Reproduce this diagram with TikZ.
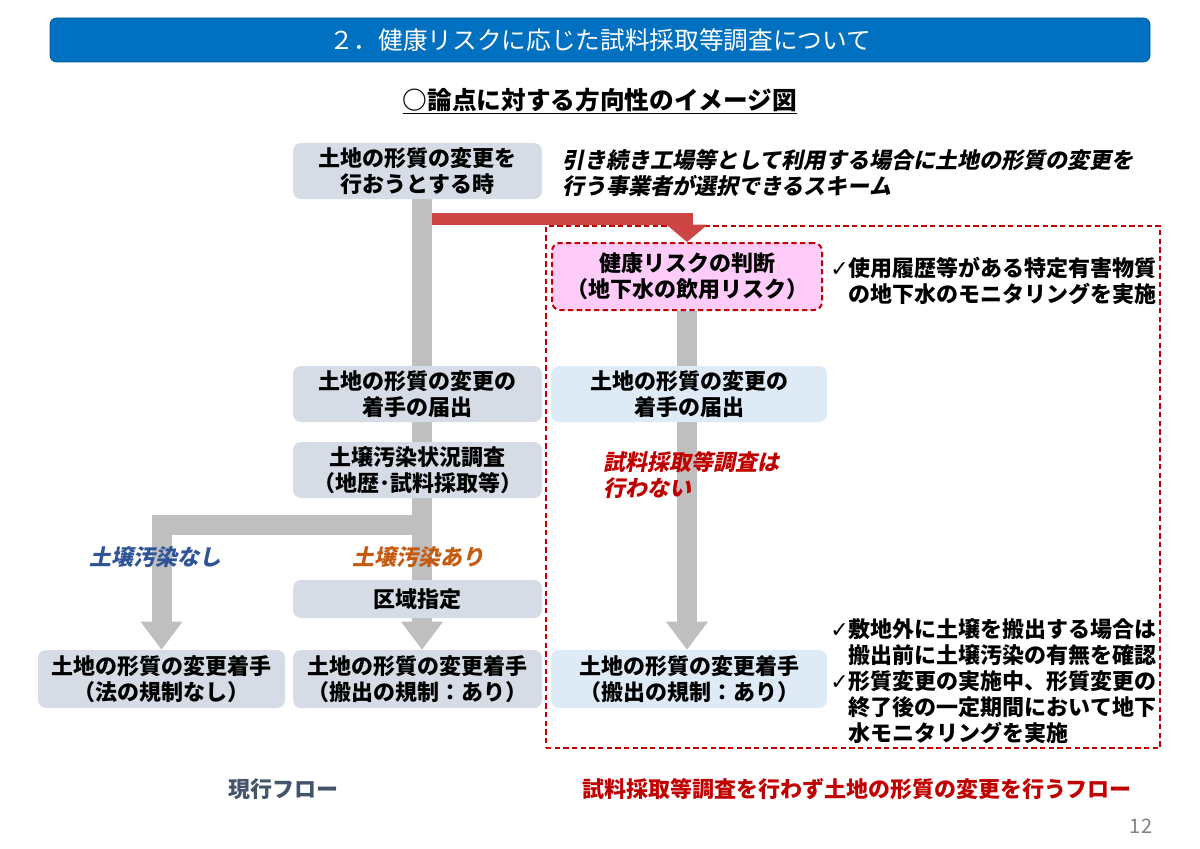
\documentclass[tikz,border=0pt]{standalone}
\usepackage{fontspec}
\setmainfont{Noto Sans CJK JP}
\newfontfamily\jpit[FakeSlant=0.2,BoldFeatures={FakeSlant=0.2}]{Noto Sans CJK JP}
\newfontfamily\symf{DejaVu Sans}
\usetikzlibrary{arrows.meta,backgrounds}
\definecolor{boxgray}{HTML}{D6DCE5}
\definecolor{boxblue}{HTML}{DEEBF7}
\definecolor{pinkfill}{HTML}{FFCCFA}
\definecolor{bargray}{HTML}{BFBFBF}
\definecolor{redarr}{HTML}{CC4444}
\definecolor{darkred}{HTML}{C00000}
\definecolor{titleblue}{HTML}{0070C0}
\definecolor{itblue}{HTML}{2F5597}
\definecolor{itorange}{HTML}{C55A11}
\definecolor{footgray}{HTML}{44546A}
\begin{document}
\begin{tikzpicture}[x=0.75pt,y=-0.75pt,
  sz/.style 2 args={minimum width=#1*0.75pt,minimum height=#2*0.75pt},
  box/.style={rounded corners=6pt, align=center, inner sep=0pt,
    font=\bfseries\fontsize{16.5}{19.5}\selectfont},
  graybox/.style={box, fill=boxgray},
  bluebox/.style={box, fill=boxblue},
  pinkbox/.style={box, fill=pinkfill, draw=darkred, line width=1.5pt, dash pattern=on 4pt off 2.5pt},
  note/.style={align=left, inner sep=0pt, font=\bfseries\fontsize{16.5}{19.5}\selectfont},
  itnote/.style={align=left, inner sep=0pt, font=\jpit\bfseries\fontsize{16.5}{19.5}\selectfont},
  grayarrow/.style={draw=bargray, line width=15pt, line join=miter,
    -{Triangle[length=21pt,width=30pt]}},
  redarrow/.style={draw=redarr, line width=9pt, line join=miter,
    -{Triangle[length=13pt,width=30pt]}},
  frame/.style={draw=darkred, line width=1.5pt, dash pattern=on 4pt off 2.5pt}
]
\useasboundingbox (0,0) rectangle (1200,849);

% title bar
\node[sz={1100}{44}, fill=titleblue, draw=titleblue!80!black, line width=0.6pt, rounded corners=5pt,
  text=white, font=\fontsize{18.5}{22}\selectfont] (title) at (600,40) {２．健康リスクに応じた試料採取等調査について};
\node[font=\bfseries\fontsize{18.5}{22}\selectfont, inner sep=0pt] (sub) at (600,101) {\underline{○論点に対する方向性のイメージ図}};

% left column
\node[graybox, sz={249}{56}] (A) at (417.5,171) {土地の形質の変更を\\行おうとする時};
\node[itnote, anchor=west] (topnote) at (562,173) {引き続き工場等として利用する場合に土地の形質の変更を\\行う事業者が選択できるスキーム};
\node[graybox, sz={249}{56}] (M1) at (417.5,394) {土地の形質の変更の\\着手の届出};
\node[graybox, sz={249}{56}] (M2) at (417.5,470) {土壌汚染状況調査\\（地歴･試料採取等）};
\node[graybox, sz={249}{38}] (M3) at (417.5,599) {区域指定};
\node[graybox, sz={247}{58}] (L) at (161.5,679) {土地の形質の変更着手\\（法の規制なし）};
\node[graybox, sz={249}{58}] (M4) at (417.5,679) {土地の形質の変更着手\\（搬出の規制：あり）};
\node[itnote, text=itblue, anchor=center] (lnone) at (155,557) {土壌汚染なし};
\node[itnote, text=itorange, anchor=center] (lari) at (418,557) {土壌汚染あり};

% right column
\node[pinkbox, sz={270}{67}] (P) at (687,276.5) {健康リスクの判断\\（地下水の飲用リスク）};
\node[note, anchor=west] (pnote) at (830,281) {{\symf\mdseries ✓}使用履歴等がある特定有害物質\\\phantom{\symf ✓}の地下水のモニタリングを実施};
\node[bluebox, sz={276}{56}] (R1) at (689,394) {土地の形質の変更の\\着手の届出};
\node[itnote, text=darkred, anchor=west] (noinv) at (603,475) {試料採取等調査は\\行わない};
\node[bluebox, sz={276}{58}] (R2) at (689,679) {土地の形質の変更着手\\（搬出の規制：あり）};
\node[note, anchor=west] (rnote) at (830,681) {{\symf\mdseries ✓}敷地外に土壌を搬出する場合は\\\phantom{\symf ✓}搬出前に土壌汚染の有無を確認\\{\symf\mdseries ✓}形質変更の実施中、形質変更の\\\phantom{\symf ✓}終了後の一定期間において地下\\\phantom{\symf ✓}水モニタリングを実施};

% footers
\node[font=\bfseries\fontsize{16.5}{19.5}\selectfont, text=footgray, inner sep=0pt] (f1) at (283,789) {現行フロー};
\node[font=\bfseries\fontsize{16.5}{19.5}\selectfont, text=darkred, inner sep=0pt] (f2) at (857,789) {試料採取等調査を行わず土地の形質の変更を行うフロー};
\node[font=\fontsize{15}{18}\selectfont, text=gray, inner sep=0pt] (pg) at (1141,826) {12};

% connectors
\coordinate (barx) at (422,0);
\coordinate (br) at (422,525);
\coordinate (redstart) at (432,219);
\begin{scope}[on background layer]
  \node[frame, sz={614}{522}] (fr) at (853,487) {};
  \draw[grayarrow] (A.south -| barx) -- (M4.north -| barx);
  \draw[grayarrow] (br) -| (L.north);
  \draw[grayarrow] (P.south) -- (R2.north -| P.south);
  \draw[redarrow] (redstart) -| (P.north);
\end{scope}
\end{tikzpicture}
\end{document}
